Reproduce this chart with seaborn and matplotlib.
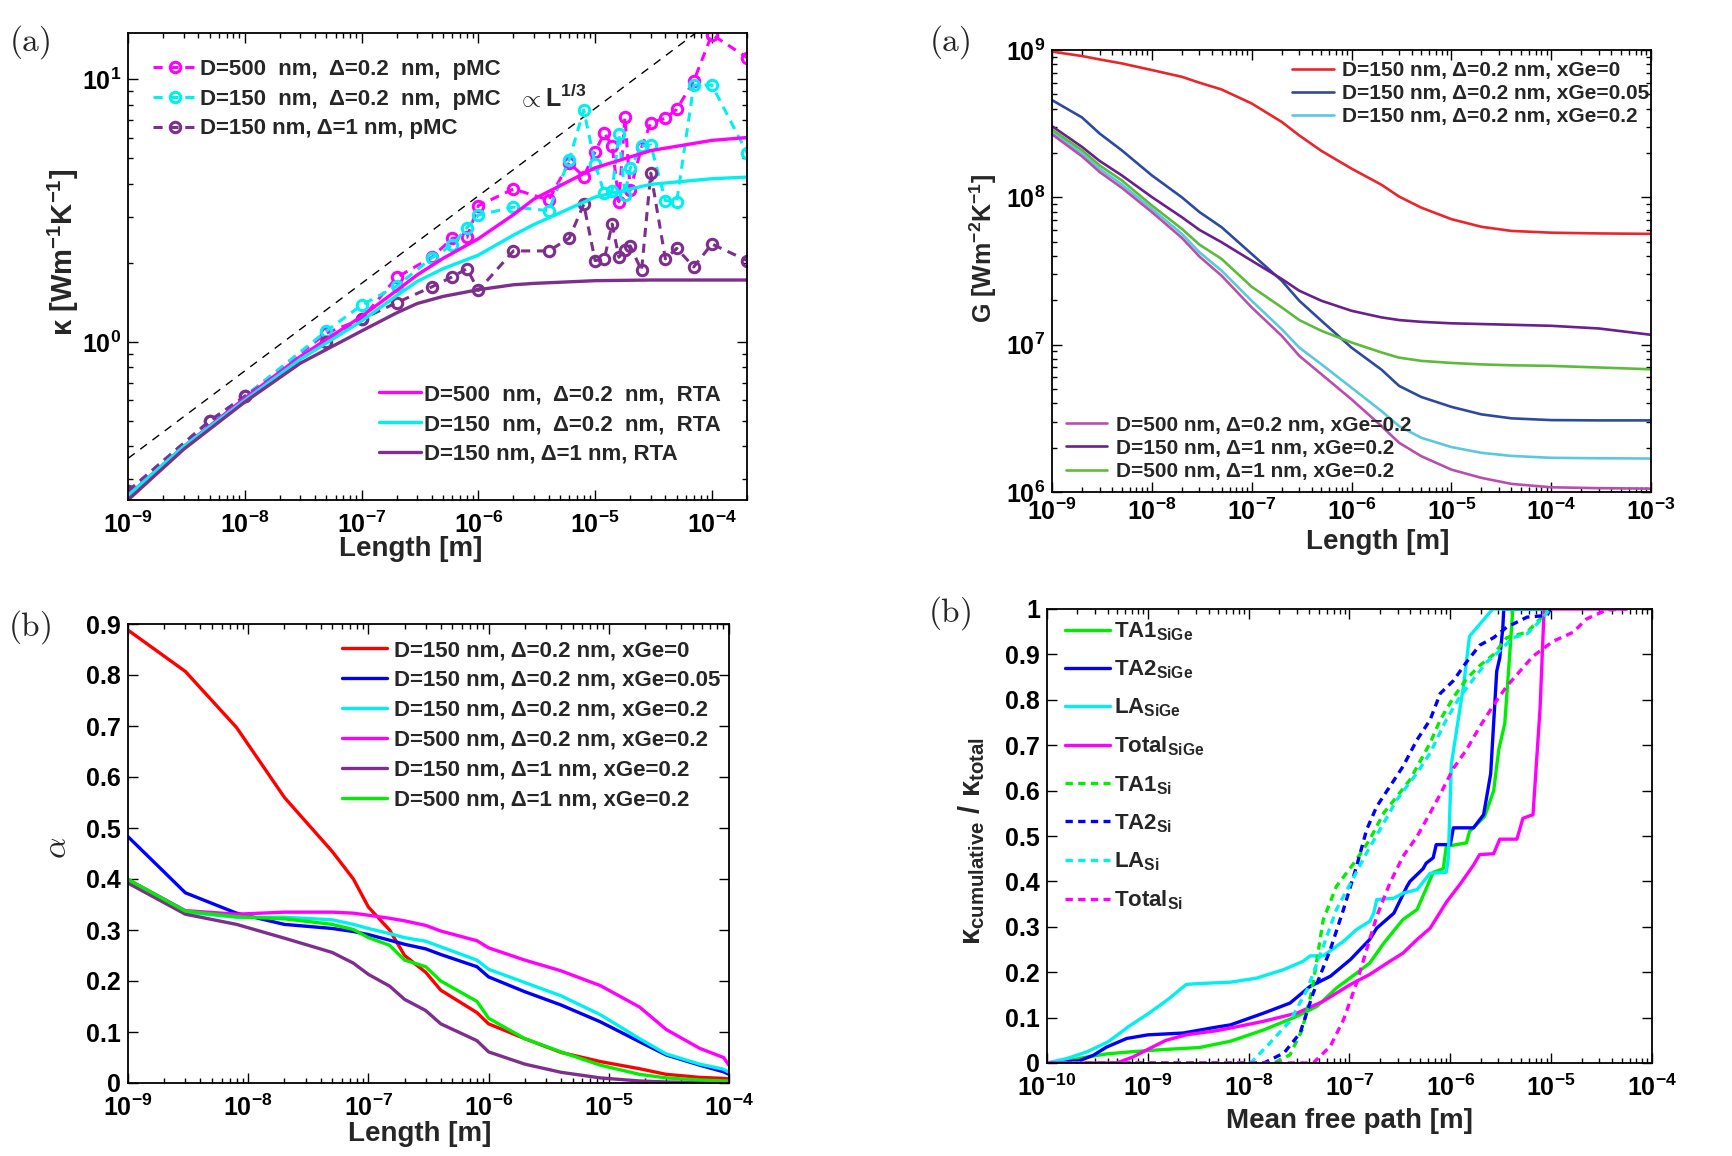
import matplotlib
matplotlib.use('Agg')
import matplotlib.pyplot as plt
import matplotlib.ticker as mticker
import seaborn as sns

# ---------------- top-left (a): kappa vs length ----------------
L_rta = [1e-9, 3e-9, 1e-8, 3e-8, 1e-7, 2e-7, 3e-7, 5e-7, 1e-6, 2e-6, 3e-6, 1e-5, 3e-5,
         1e-4, 2e-4]
k_rta_500_02 = [0.26, 0.40, 0.61, 0.88, 1.25, 1.57, 1.8, 2.08, 2.47, 3.05, 3.5, 4.6, 5.35,
                5.85, 6.0]
k_rta_150_02 = [0.26, 0.40, 0.60, 0.86, 1.2, 1.5, 1.7, 1.9, 2.14, 2.55, 2.8, 3.56, 3.98,
                4.18, 4.24]
k_rta_150_1 = [0.25, 0.39, 0.59, 0.83, 1.1, 1.29, 1.4, 1.49, 1.58, 1.65, 1.67, 1.71, 1.72,
               1.72, 1.72]

L_pmc = [1e-9, 5e-9, 1e-8, 5e-8, 1e-7, 2e-7, 4e-7, 6e-7, 8e-7, 1e-6, 2e-6, 4e-6, 6e-6,
         8e-6, 1e-5, 1.2e-5, 1.4e-5, 1.6e-5, 1.8e-5, 2e-5, 2.5e-5, 3e-5, 4e-5, 5e-5,
         7e-5, 1e-4, 2e-4]
k_pmc_500_02 = [0.27, 0.50, 0.62, 1.08, 1.22, 1.76, 2.1, 2.48, 2.5, 3.3, 3.82, 3.47, 4.81,
                4.26, 5.3, 6.23, 5.58, 3.42, 7.17, 3.79, 5.5, 6.84, 7.1, 7.69, 9.85, 14.8, 12.1]
k_pmc_150_02 = [0.27, 0.50, 0.62, 1.1, 1.38, 1.63, 2.09, 2.34, 2.72, 3.04, 3.26, 3.16, 4.93,
                7.64, 4.76, 3.68, 3.77, 6.17, 3.63, 4.58, 5.57, 5.62, 3.45, 3.42, 9.5, 9.51, 5.25]
k_pmc_150_1 = [0.27, 0.50, 0.62, 1.0, 1.22, 1.41, 1.62, 1.77, 1.9, 1.57, 2.22, 2.22, 2.48,
               3.34, 2.04, 2.07, 2.81, 2.1, 2.24, 2.32, 1.87, 4.39, 2.07, 2.27, 1.93, 2.36, 2.04]

guide_L = [1e-9, 2e-4]
guide_k = [0.36, 21.0]

# ---------------- top-right (a): G vs length (values as log10 G) ----------------
L_G = [1e-9, 2e-9, 3e-9, 5e-9, 1e-8, 2e-8, 3e-8, 5e-8, 1e-7, 2e-7, 3e-7, 5e-7, 1e-6,
       2e-6, 3e-6, 5e-6, 1e-5, 2e-5, 4e-5, 1e-4, 3e-4, 1e-3]
logG_150_02_x0 = [8.989, 8.959, 8.936, 8.909, 8.864, 8.818, 8.778, 8.732, 8.637, 8.512, 8.42,
                  8.315, 8.195, 8.085, 8.005, 7.93, 7.852, 7.8, 7.772, 7.76, 7.755, 7.752]
logG_150_02_x005 = [8.66, 8.542, 8.433, 8.319, 8.149, 8.0, 7.9, 7.797, 7.616, 7.434, 7.298,
                    7.162, 6.98, 6.83, 6.72, 6.645, 6.578, 6.527, 6.5, 6.488, 6.486, 6.486]
logG_150_02_x02 = [8.444, 8.297, 8.194, 8.088, 7.922, 7.752, 7.627, 7.502, 7.298, 7.105, 6.98,
                   6.867, 6.708, 6.549, 6.447, 6.368, 6.305, 6.266, 6.245, 6.232, 6.229, 6.227]
logG_500_02_x02 = [8.428, 8.278, 8.172, 8.065, 7.9, 7.725, 7.598, 7.468, 7.253, 7.06, 6.924,
                   6.799, 6.629, 6.447, 6.334, 6.243, 6.152, 6.096, 6.055, 6.032, 6.026, 6.023]
logG_150_1_x02 = [8.483, 8.342, 8.247, 8.149, 8.002, 7.865, 7.779, 7.695, 7.57, 7.446, 7.366,
                  7.298, 7.23, 7.185, 7.167, 7.155, 7.145, 7.14, 7.135, 7.128, 7.11, 7.067]
logG_500_1_x02 = [8.46, 8.319, 8.217, 8.115, 7.945, 7.786, 7.679, 7.582, 7.393, 7.253, 7.167,
                  7.094, 7.015, 6.947, 6.912, 6.89, 6.876, 6.866, 6.86, 6.856, 6.845, 6.833]

# ---------------- bottom-left (b): alpha vs length ----------------
L_a = [1e-9, 3e-9, 8e-9, 2e-8, 5e-8, 7.5e-8, 1e-7, 1.5e-7, 2e-7, 3e-7, 4e-7, 8e-7, 1e-6,
       2e-6, 4e-6, 8.5e-6, 1.8e-5, 3e-5, 5.7e-5, 9e-5, 1e-4]
a_150_02_x0 = [0.888, 0.807, 0.697, 0.56, 0.454, 0.40, 0.345, 0.30, 0.25, 0.217, 0.182,
               0.138, 0.116, 0.087, 0.06, 0.042, 0.028, 0.017, 0.011, 0.009, 0.008]
a_150_02_x005 = [0.483, 0.373, 0.333, 0.311, 0.303, 0.297, 0.291, 0.28, 0.272, 0.263, 0.252,
                 0.228, 0.208, 0.179, 0.153, 0.12, 0.081, 0.055, 0.035, 0.022, 0.017]
a_150_02_x02 = [0.399, 0.335, 0.325, 0.325, 0.32, 0.311, 0.303, 0.293, 0.285, 0.278, 0.267,
                0.241, 0.223, 0.197, 0.171, 0.134, 0.087, 0.057, 0.037, 0.027, 0.021]
a_500_02_x02 = [0.399, 0.338, 0.331, 0.335, 0.335, 0.333, 0.329, 0.323, 0.318, 0.309, 0.298,
                0.279, 0.265, 0.241, 0.22, 0.191, 0.149, 0.105, 0.068, 0.05, 0.035]
a_150_1_x02 = [0.392, 0.331, 0.311, 0.284, 0.256, 0.235, 0.213, 0.19, 0.164, 0.142, 0.116,
               0.083, 0.061, 0.037, 0.021, 0.01, 0.004, 0.002, 0.001, 0.001, 0.001]
a_500_1_x02 = [0.399, 0.337, 0.326, 0.322, 0.311, 0.301, 0.285, 0.27, 0.241, 0.228, 0.2,
               0.16, 0.127, 0.087, 0.061, 0.035, 0.017, 0.01, 0.006, 0.004, 0.004]
alpha_ticks = [0, 0.1, 0.2, 0.3, 0.4, 0.5, 0.6, 0.7, 0.8, 0.9]

# ---------------- bottom-right (b): cumulative kappa vs MFP (log10 of MFP) ----------------
ta1_sige_lx = [-10, -9.8, -9.61, -9.41, -9.15, -8.82, -8.49, -8.18, -7.85, -7.52, -7.32, -7.13,
               -6.93, -6.8, -6.66, -6.47, -6.33, -6.23, -6.17, -6.07, -6.04, -5.84, -5.81,
               -5.66, -5.57, -5.52, -5.46, -5.41, -5.38, -5.0]
ta1_sige_k = [0, 0.005, 0.013, 0.02, 0.025, 0.03, 0.034, 0.048, 0.073, 0.103, 0.125, 0.165,
              0.198, 0.22, 0.264, 0.316, 0.338, 0.389, 0.42, 0.428, 0.477, 0.485, 0.51,
              0.543, 0.6, 0.69, 0.748, 0.904, 1.0, 1.0]
ta2_sige_lx = [-10, -9.68, -9.54, -9.41, -9.21, -9.0, -8.65, -8.32, -8.18, -7.85, -7.59, -7.39,
               -7.19, -6.99, -6.8, -6.73, -6.56, -6.43, -6.4, -6.27, -6.24, -6.17, -6.14, -6.0,
               -5.97, -5.77, -5.67, -5.6, -5.54, -5.51, -5.48, -5.47, -5.0]
ta2_sige_k = [0, 0.005, 0.017, 0.035, 0.054, 0.062, 0.066, 0.079, 0.084, 0.11, 0.132, 0.169,
              0.191, 0.228, 0.272, 0.297, 0.33, 0.389, 0.4, 0.428, 0.44, 0.452, 0.481, 0.481,
              0.518, 0.518, 0.547, 0.637, 0.863, 0.892, 0.957, 1.0, 1.0]
la_sige_lx = [-10, -9.8, -9.6, -9.4, -9.3, -9.2, -9.0, -8.8, -8.62, -8.5, -8.18, -7.92, -7.65,
              -7.46, -7.39, -7.26, -7.06, -6.93, -6.8, -6.76, -6.73, -6.56, -6.47, -6.33, -6.2,
              -6.04, -6.02, -5.99, -5.94, -5.87, -5.81, -5.58, -5.0]
la_sige_k = [0, 0.01, 0.025, 0.046, 0.062, 0.079, 0.108, 0.14, 0.173, 0.175, 0.178, 0.187,
             0.206, 0.224, 0.236, 0.236, 0.268, 0.294, 0.312, 0.33, 0.36, 0.363, 0.374, 0.382,
             0.418, 0.42, 0.452, 0.658, 0.73, 0.83, 0.94, 1.0, 1.0]
tot_sige_lx = [-10, -9.31, -9.15, -9.0, -8.82, -8.62, -8.32, -8.18, -7.85, -7.52, -7.26, -6.99,
               -6.8, -6.6, -6.47, -6.33, -6.2, -6.04, -5.9, -5.77, -5.71, -5.57, -5.51, -5.34,
               -5.28, -5.18, -5.11, -5.07, -4.25]
tot_sige_k = [0, 0, 0.013, 0.03, 0.05, 0.062, 0.071, 0.077, 0.092, 0.11, 0.136, 0.173, 0.195,
              0.224, 0.242, 0.272, 0.297, 0.354, 0.395, 0.436, 0.459, 0.461, 0.493, 0.493,
              0.539, 0.547, 0.781, 1.0, 1.0]
ta1_si_lx = [-10, -7.75, -7.59, -7.47, -7.37, -7.26, -7.13, -6.93, -6.8, -6.66, -6.53, -6.4,
             -6.2, -6.1, -5.97, -5.84, -5.71, -5.57, -5.44, -5.24, -5.11, -5.03, -5.0]
ta1_si_k = [0, 0, 0.018, 0.073, 0.162, 0.316, 0.389, 0.448, 0.492, 0.551, 0.587, 0.624, 0.705,
            0.756, 0.805, 0.846, 0.875, 0.9, 0.937, 0.949, 0.978, 1.0, 1.0]
ta2_si_lx = [-10, -7.85, -7.65, -7.49, -7.36, -7.19, -7.06, -6.93, -6.83, -6.73, -6.6, -6.47,
             -6.33, -6.2, -6.1, -5.97, -5.84, -5.71, -5.57, -5.44, -5.24, -5.04, -5.01]
ta2_si_k = [0, 0, 0.022, 0.066, 0.154, 0.25, 0.338, 0.433, 0.514, 0.565, 0.609, 0.653, 0.712,
            0.756, 0.814, 0.842, 0.883, 0.92, 0.937, 0.96, 0.982, 0.986, 1.0]
la_si_lx = [-10, -7.98, -7.79, -7.59, -7.42, -7.26, -7.13, -6.99, -6.83, -6.66, -6.53, -6.33,
            -6.2, -6.04, -5.91, -5.77, -5.64, -5.51, -5.38, -5.24, -5.11, -5.01]
la_si_k = [0, 0, 0.044, 0.092, 0.162, 0.257, 0.338, 0.396, 0.463, 0.529, 0.58, 0.639, 0.683,
           0.756, 0.805, 0.846, 0.883, 0.908, 0.937, 0.945, 0.974, 1.0]
tot_si_lx = [-10, -7.36, -7.19, -7.06, -6.93, -6.8, -6.73, -6.6, -6.47, -6.33, -6.2, -6.1,
             -5.97, -5.84, -5.71, -5.57, -5.44, -5.31, -5.18, -4.98, -4.78, -4.65, -4.45, -4.25]
tot_si_k = [0, 0, 0.037, 0.095, 0.176, 0.272, 0.323, 0.396, 0.455, 0.499, 0.551, 0.592, 0.649,
            0.69, 0.74, 0.789, 0.83, 0.863, 0.896, 0.929, 0.949, 0.978, 0.998, 1.0]
kcum_ticks = [0, 0.1, 0.2, 0.3, 0.4, 0.5, 0.6, 0.7, 0.8, 0.9, 1.0]

# colours
MAG, CYA, PUR = '#FF00FF', '#00F0F0', '#7E2F8E'
RED, BLU, GRN = '#FF0000', '#0000FF', '#00EE00'

sns.set_style('ticks')
plt.rcParams['font.family'] = ['Liberation Sans', 'DejaVu Sans']
plt.rcParams['font.weight'] = 'bold'
plt.rcParams['axes.labelweight'] = 'bold'
plt.rcParams['mathtext.fontset'] = 'custom'
plt.rcParams['mathtext.rm'] = 'Liberation Sans'
plt.rcParams['mathtext.bf'] = 'Liberation Sans:bold'
plt.rcParams['mathtext.it'] = 'Liberation Sans:italic'
plt.rcParams['mathtext.default'] = 'bf'

TICK_FS = 18
LAB_FS = 20


def draw(ax, x, y, color, ls='-', lw=2.2, **kw):
    sns.lineplot(x=x, y=y, ax=ax, color=color, linestyle=ls, linewidth=lw,
                 estimator=None, sort=False, legend=False, **kw)
    return ax.lines[-1]


def style_axes(ax, ylog=False, xpad=8):
    ax.set_xscale('log')
    if ylog:
        ax.set_yscale('log')
    for s in ax.spines.values():
        s.set_linewidth(1.3)
        s.set_color('black')
    ax.tick_params(which='both', direction='in', top=True, right=True, width=1.0,
                   labelsize=TICK_FS, pad=5, colors='black')
    ax.tick_params(axis='x', which='both', pad=xpad)
    ax.tick_params(which='major', length=7)
    ax.tick_params(which='minor', length=3.5)
    ax.xaxis.set_major_locator(mticker.LogLocator(base=10, numticks=20))
    ax.xaxis.set_minor_locator(mticker.LogLocator(base=10, subs=range(2, 10), numticks=20))
    ax.xaxis.set_minor_formatter(mticker.NullFormatter())
    if ylog:
        ax.yaxis.set_major_locator(mticker.LogLocator(base=10, numticks=20))
        ax.yaxis.set_minor_locator(mticker.LogLocator(base=10, subs=range(2, 10), numticks=20))
        ax.yaxis.set_minor_formatter(mticker.NullFormatter())


def lin_fmt(v, pos):
    if abs(v) < 1e-9:
        return '0'
    if abs(v - 1) < 1e-9:
        return '1'
    return '%.1f' % v


W, H = 1732, 1156
fig = plt.figure(figsize=(W / 100, H / 100), dpi=100)
ax1 = fig.add_axes([128 / W, 1 - 500 / H, 619 / W, 467 / H])
ax2 = fig.add_axes([1052 / W, 1 - 492 / H, 599 / W, 442 / H])
ax3 = fig.add_axes([128 / W, 1 - 1083 / H, 601 / W, 459 / H])
ax4 = fig.add_axes([1047 / W, 1 - 1063 / H, 605 / W, 454 / H])

# ---- panel 1 ----
dash = (0, (3, 2.2))
mk = dict(marker='o', markersize=7.5, markerfacecolor='none', markeredgewidth=2.2)
draw(ax1, guide_L, guide_k, 'black', ls=(0, (6, 5)), lw=1.0)
h1 = draw(ax1, L_pmc, k_pmc_500_02, MAG, ls=dash, lw=2.2, markeredgecolor=MAG, **mk)
h2 = draw(ax1, L_pmc, k_pmc_150_02, CYA, ls=dash, lw=2.2, markeredgecolor=CYA, **mk)
h3 = draw(ax1, L_pmc, k_pmc_150_1, PUR, ls=dash, lw=2.2, markeredgecolor=PUR, **mk)
h4 = draw(ax1, L_rta, k_rta_500_02, MAG, lw=2.4)
h5 = draw(ax1, L_rta, k_rta_150_02, CYA, lw=2.4)
h6 = draw(ax1, L_rta, k_rta_150_1, PUR, lw=2.4)
style_axes(ax1, ylog=True)
ax1.set_xlim(1e-9, 2e-4)
ax1.set_ylim(0.25, 15)
leg_a = ax1.legend([h1, h2, h3],
                   ['D=500  nm,  \u0394=0.2  nm,  pMC', 'D=150  nm,  \u0394=0.2  nm,  pMC',
                    'D=150 nm, \u0394=1 nm, pMC'],
                   loc='upper left', bbox_to_anchor=(0.04, 0.945), frameon=False,
                   prop={'weight': 'bold', 'size': 16}, handlelength=2.0,
                   handletextpad=0.12, labelspacing=0.4, borderpad=0, borderaxespad=0)
ax1.add_artist(leg_a)
ax1.legend([h4, h5, h6],
           ['D=500  nm,  \u0394=0.2  nm,  RTA', 'D=150  nm,  \u0394=0.2  nm,  RTA',
            'D=150 nm, \u0394=1 nm, RTA'],
           loc='lower right', bbox_to_anchor=(0.958, 0.075), frameon=False,
           prop={'weight': 'bold', 'size': 16}, handlelength=1.9,
           handletextpad=0.12, labelspacing=0.4, borderpad=0, borderaxespad=0)
ax1.text(0.685, 0.86, r'$\propto$L$^{1/3}$', transform=ax1.transAxes, fontsize=18,
         fontweight='bold', ha='center', va='center')
ax1.set_xlabel('Length [m]', fontsize=LAB_FS, fontweight='bold')
ax1.set_ylabel('\u03ba [Wm$^{-1}$K$^{-1}$]', fontsize=21, fontweight='bold')
ax1.xaxis.set_label_coords(0.457, -0.105)
ax1.yaxis.set_label_coords(-0.105, 0.53)

# ---- panel 2 ----
g_lines = [
    (logG_150_02_x0, '#E8262B', 'D=150 nm, \u0394=0.2 nm, xGe=0'),
    (logG_150_02_x005, '#2E4A9E', 'D=150 nm, \u0394=0.2 nm, xGe=0.05'),
    (logG_150_02_x02, '#5BC8DC', 'D=150 nm, \u0394=0.2 nm, xGe=0.2'),
    (logG_500_02_x02, '#B84FAE', 'D=500 nm, \u0394=0.2 nm, xGe=0.2'),
    (logG_150_1_x02, '#6A1F8E', 'D=150 nm, \u0394=1 nm, xGe=0.2'),
    (logG_500_1_x02, '#5DBB3C', 'D=500 nm, \u0394=1 nm, xGe=0.2'),
]
g_handles = []
for lg, col, lab in g_lines:
    g_handles.append(draw(ax2, L_G, [10.0 ** v for v in lg], col, lw=1.9))
style_axes(ax2, ylog=True, xpad=5)
ax2.set_xlim(1e-9, 1e-3)
ax2.set_ylim(1e6, 1e9)
leg_g = ax2.legend(g_handles[:3], [t[2] for t in g_lines[:3]],
                   loc='upper right', bbox_to_anchor=(0.997, 0.975), frameon=False,
                   prop={'weight': 'bold', 'size': 15}, handlelength=2.0,
                   handletextpad=0.4, labelspacing=0.2, borderpad=0, borderaxespad=0)
ax2.add_artist(leg_g)
ax2.legend(g_handles[3:], [t[2] for t in g_lines[3:]],
           loc='lower left', bbox_to_anchor=(0.023, 0.025), frameon=False,
           prop={'weight': 'bold', 'size': 15}, handlelength=2.0,
           handletextpad=0.4, labelspacing=0.2, borderpad=0, borderaxespad=0)
ax2.set_xlabel('Length [m]', fontsize=LAB_FS, fontweight='bold')
ax2.set_ylabel('G [Wm$^{-2}$K$^{-1}$]', fontsize=18, fontweight='bold')
ax2.xaxis.set_label_coords(0.544, -0.112)
ax2.yaxis.set_label_coords(-0.115, 0.552)

# ---- panel 3 ----
a_lines = [
    (a_150_02_x0, RED, 'D=150 nm, \u0394=0.2 nm, xGe=0'),
    (a_150_02_x005, BLU, 'D=150 nm, \u0394=0.2 nm, xGe=0.05'),
    (a_150_02_x02, CYA, 'D=150 nm, \u0394=0.2 nm, xGe=0.2'),
    (a_500_02_x02, MAG, 'D=500 nm, \u0394=0.2 nm, xGe=0.2'),
    (a_150_1_x02, PUR, 'D=150 nm, \u0394=1 nm, xGe=0.2'),
    (a_500_1_x02, GRN, 'D=500 nm, \u0394=1 nm, xGe=0.2'),
]
a_handles = []
for vals, col, lab in a_lines:
    a_handles.append(draw(ax3, L_a, vals, col, lw=2.4))
style_axes(ax3)
ax3.set_xlim(1e-9, 1e-4)
ax3.set_ylim(0, 0.9)
ax3.set_yticks(alpha_ticks)
ax3.yaxis.set_major_formatter(mticker.FuncFormatter(lin_fmt))
ax3.legend(a_handles, [t[2] for t in a_lines], loc='upper right',
           bbox_to_anchor=(0.985, 0.965), frameon=False,
           prop={'weight': 'bold', 'size': 16}, handlelength=2.0,
           handletextpad=0.3, labelspacing=0.4, borderpad=0, borderaxespad=0)
ax3.set_xlabel('Length [m]', fontsize=LAB_FS, fontweight='bold')
ax3.set_ylabel(r'$\alpha$', fontsize=24, math_fontfamily='cm', fontweight='normal')
ax3.xaxis.set_label_coords(0.486, -0.111)
ax3.yaxis.set_label_coords(-0.118, 0.512)

# ---- panel 4 ----
dash4 = (0, (2.2, 1.6))
k_lines = [
    (ta1_sige_lx, ta1_sige_k, GRN, '-', 'TA1$_{SiGe}$'),
    (ta2_sige_lx, ta2_sige_k, BLU, '-', 'TA2$_{SiGe}$'),
    (la_sige_lx, la_sige_k, CYA, '-', 'LA$_{SiGe}$'),
    (tot_sige_lx, tot_sige_k, MAG, '-', 'Total$_{SiGe}$'),
    (ta1_si_lx, ta1_si_k, GRN, dash4, 'TA1$_{Si}$'),
    (ta2_si_lx, ta2_si_k, BLU, dash4, 'TA2$_{Si}$'),
    (la_si_lx, la_si_k, CYA, dash4, 'LA$_{Si}$'),
    (tot_si_lx, tot_si_k, MAG, dash4, 'Total$_{Si}$'),
]
k_handles = []
for lx, kv, col, ls, lab in k_lines:
    k_handles.append(draw(ax4, [10.0 ** v for v in lx], kv, col, ls=ls, lw=2.4))
style_axes(ax4)
ax4.set_xlim(1e-10, 1e-4)
ax4.set_ylim(0, 1)
ax4.set_yticks(kcum_ticks)
ax4.yaxis.set_major_formatter(mticker.FuncFormatter(lin_fmt))
ax4.legend(k_handles, [t[4] for t in k_lines], loc='upper left',
           bbox_to_anchor=(0.03, 0.975), frameon=False,
           prop={'weight': 'bold', 'size': 16}, handlelength=2.0,
           handletextpad=0.2, labelspacing=0.7, borderpad=0, borderaxespad=0)
ax4.set_xlabel('Mean free path [m]', fontsize=LAB_FS, fontweight='bold')
ax4.set_ylabel('\u03ba$_{cumulative}$ / \u03ba$_{total}$', fontsize=21, fontweight='bold')
ax4.xaxis.set_label_coords(0.5, -0.128)
ax4.yaxis.set_label_coords(-0.124, 0.49)

for ax in (ax1, ax2, ax3, ax4):
    ax.xaxis.label.set_va('center')
    ax.yaxis.label.set_va('center')
    for t in ax.get_xticklabels() + ax.get_yticklabels():
        t.set_fontweight('bold')

# panel tags
for (fx, fy, tag) in [(30, 42, '(a)'), (950, 42, '(a)'), (30, 627, '(b)'), (950, 613, '(b)')]:
    fig.text(fx / W, 1 - fy / H, r'$\mathrm{' + tag + '}$', fontsize=24,
             math_fontfamily='cm', ha='center', va='center')

fig.savefig('out.png', dpi=100)
